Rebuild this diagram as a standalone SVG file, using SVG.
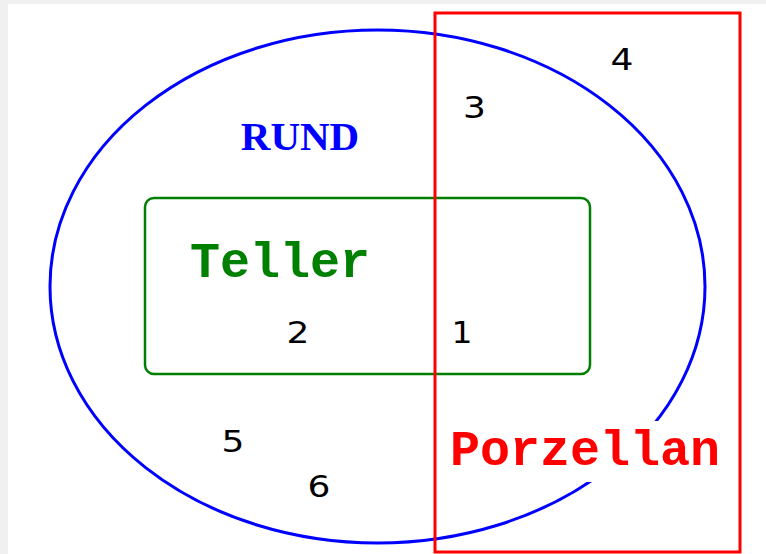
<svg xmlns="http://www.w3.org/2000/svg" width="766" height="554" viewBox="0 0 766 554">
  <style>
    .num { font-family: "DejaVu Sans", "Liberation Sans", sans-serif; font-size: 30px; fill: #000; text-anchor: middle; }
    .mono { font-family: "Courier New", "Nimbus Mono PS", "FreeMono", "Liberation Mono", monospace; font-weight: bold; font-size: 50px; }
  </style>
  <rect x="0" y="0" width="766" height="554" fill="#f0f0f0"/>
  <rect x="8" y="4" width="758" height="550" fill="#ffffff"/>

  <g id="rund">
    <ellipse cx="377.5" cy="286.5" rx="327.5" ry="256.5" fill="none" stroke="#0000ff" stroke-width="3"/>
    <text x="300" y="150" font-family="Liberation Serif, serif" font-weight="bold" font-size="41" fill="#0000ff" text-anchor="middle">RUND</text>
  </g>

  <g id="teller">
    <rect x="145" y="198" width="445" height="176" rx="9" ry="9" fill="none" stroke="#008000" stroke-width="2.5"/>
    <text class="mono" x="190" y="277" fill="#008000">Teller</text>
  </g>

  <g id="porzellan">
    <rect x="435" y="13" width="305" height="539" fill="none" stroke="#ff0000" stroke-width="3"/>
    <rect x="446" y="421" width="276" height="61" fill="#ffffff"/>
    <text class="mono" x="450" y="465" fill="#ff0000">Porzellan</text>
  </g>

  <g id="labels">
    <text class="num" transform="translate(462,343) scale(1.1,1)">1</text>
    <text class="num" transform="translate(298,343) scale(1.2,1)">2</text>
    <text class="num" transform="translate(474.5,118) scale(1.2,1)">3</text>
    <text class="num" transform="translate(622,70) scale(1.2,1)">4</text>
    <text class="num" transform="translate(233,452) scale(1.2,1)">5</text>
    <text class="num" transform="translate(319,497) scale(1.2,1)">6</text>
  </g>
</svg>
